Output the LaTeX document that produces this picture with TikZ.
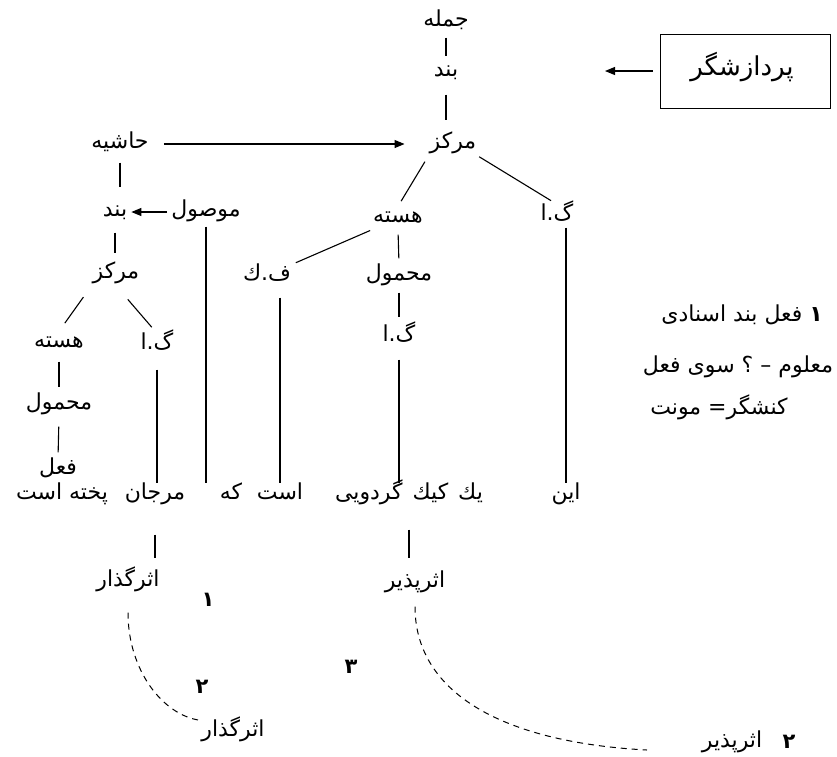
\documentclass[tikz,border=0pt]{standalone}
\usepackage{fontspec}
\newfontfamily\arabicfont[Script=Arabic]{DejaVu Sans}
\TeXXeTstate=1
\usetikzlibrary{arrows.meta}

\begin{document}
\begin{tikzpicture}[x=1pt,y=-1pt,
    lbl/.style={font=\arabicfont\fontsize{22}{26}\selectfont, inner sep=1pt, text height=15pt, text depth=6pt},
    num/.style={font=\arabicfont\bfseries\fontsize{21}{24}\selectfont, inner sep=1pt},
    link/.style={line width=1.1pt},
    pointer/.style={line width=1.1pt, -{Triangle[length=10pt,width=8pt]}},
    trace/.style={line width=1pt, dash pattern=on 6pt off 5pt}]
    \useasboundingbox (0,0) rectangle (837,756);

    % processor box
    \node[lbl, font=\arabicfont\fontsize{26}{30}\selectfont, draw, line width=1pt, minimum width=170pt, minimum height=74pt] (pardazeshgar) at (745,71) {\beginR پردازشگر\endR\hspace*{6pt}};
    \coordinate (pin) at (605,71);
    \draw[pointer, shorten <=7pt] (pardazeshgar.west) -- (pin);

    % main clause
    \node[lbl] (jomle) at (446,22) {\beginR جمله\endR};
    \node[lbl] (band) at (446,72) {\beginR بند\endR};
    \node[lbl] (markaz) at (453,144) {\beginR مرکز\endR};
    \node[lbl] (hasteh) at (398,218) {\beginR هسته\endR};
    \node[lbl] (goa) at (557,216) {\beginR گ.ا\endR};
    \node[lbl] (fk) at (267,276) {\beginR ف.ك\endR};
    \node[lbl] (mahmul) at (399,276) {\beginR محمول\endR};
    \node[lbl] (goa2) at (399,337) {\beginR گ.ا\endR};

    % relative clause
    \node[lbl] (hashie) at (120,144) {\beginR حاشیه\endR};
    \node[lbl] (band2) at (115,212) {\beginR بند\endR};
    \node[lbl] (mowsul) at (206,212) {\beginR موصول\endR};
    \node[lbl] (markaz2) at (116,274) {\beginR مرکز\endR};
    \node[lbl] (hasteh2) at (59,343) {\beginR هسته\endR};
    \node[lbl] (goa3) at (157,345) {\beginR گ.ا\endR};
    \node[lbl] (mahmul2) at (59,405) {\beginR محمول\endR};
    \node[lbl] (feel) at (58,470) {\beginR فعل\endR};

    % words
    \node[lbl] (pokhte) at (62,495) {\beginR پخته است\endR};
    \node[lbl] (marjan) at (155,495) {\beginR مرجان\endR};
    \node[lbl] (ke) at (231,495) {\beginR که\endR};
    \node[lbl] (ast) at (280,495) {\beginR است\endR};
    \node[lbl] (keik) at (409,495) {\beginR یك\hspace{10pt}كیك\hspace{10pt}گردویی\endR};
    \node[lbl] (een) at (566,495) {\beginR این\endR};

    % roles
    \node[lbl] (asar1) at (128,582) {\beginR اثرگذار\endR};
    \node[lbl] (asar2) at (233,732) {\beginR اثرگذار\endR};
    \node[lbl] (asarp1) at (415,583) {\beginR اثرپذیر\endR};
    \node[lbl] (asarp2) at (732,743) {\beginR اثرپذیر\endR};
    \node[num] (n1) at (208,600) {۱};
    \node[num] (n2) at (202,687) {۲};
    \node[num] (n3) at (351,667) {۳};
    \node[num] (n4) at (789,742) {۲};
    \coordinate (traceend) at (647,750);

    % notes
    \node[lbl] (note1) at (742,317) {\beginR{\bfseries ۱} فعل بند اسنادی\endR};
    \node[lbl] (note2) at (738,368) {\beginR معلوم – ؟ سوی فعل\endR};
    \node[lbl] (note3) at (719,410) {\beginR کنشگر= مونت\endR};

    % connectors
    \draw[link, shorten <=4pt, shorten >=4pt] (jomle.south) -- (band.north);
    \draw[link, shorten <=11pt, shorten >=12pt] (band.south) -- (band.south |- markaz.north);
    \draw[link, shorten <=7pt, shorten >=6pt] (markaz.south west) -- (hasteh.north);
    \draw[link, shorten <=2pt, shorten >=7pt] (markaz.south east) -- (goa.north);
    \draw[link, shorten <=2pt, shorten >=4pt] (hasteh.south west) -- (fk.north east);
    \draw[link, shorten <=5pt, shorten >=6pt] (hasteh.south) -- (mahmul.north);
    \draw[link, shorten <=5pt, shorten >=8pt] (mahmul.south) -- (goa2.north);
    \draw[link, shorten <=11pt] (goa2.south) -- (goa2.south |- keik.north);
    \draw[link, shorten <=10pt] (fk.south -| ast) -- (ast.north);
    \draw[link] (goa.south -| een) -- (een.north);
    \draw[pointer, shorten <=14pt, shorten >=24pt] (hashie.east) -- (markaz.west);
    \draw[link, shorten <=7pt, shorten >=13pt] (hashie.south) -- (hashie.south |- band2.north);
    \draw[pointer, shorten <=3pt, shorten >=3pt] (mowsul.west) -- (band2.east);
    \draw[link, shorten <=9pt, shorten >=9pt] (band2.south) -- (band2.south |- markaz2.north);
    \draw[link, shorten <=14pt, shorten >=10pt] (markaz2.south west) -- (hasteh2.north);
    \draw[link, shorten <=18pt, shorten >=8pt] (markaz2.south) -- (goa3.north);
    \draw[link, shorten <=7pt, shorten >=6pt] (hasteh2.south) -- (mahmul2.north);
    \draw[link, shorten <=10pt, shorten >=6pt] (mahmul2.south) -- (feel.north);
    \draw[link, shorten <=13pt] (goa3.south) -- (goa3.south |- marjan.north);
    \draw[link, shorten <=3pt] (mowsul.south) -- (mowsul.south |- ke.north);
    \draw[link, shorten <=28pt, shorten >=12pt] (marjan.south) -- (marjan.south |- asar1.north);
    \draw[link, shorten <=23pt, shorten >=13pt] (keik.south) -- (keik.south |- asarp1.north);
    \draw[trace, shorten <=19pt] (asar1.south) .. controls +(0,77) and +(-37,-5) .. (asar2.north west);
    \draw[trace, shorten <=12pt] (asarp1.south) .. controls +(0,95) and +(-150,-8) .. (traceend);
\end{tikzpicture}
\end{document}
